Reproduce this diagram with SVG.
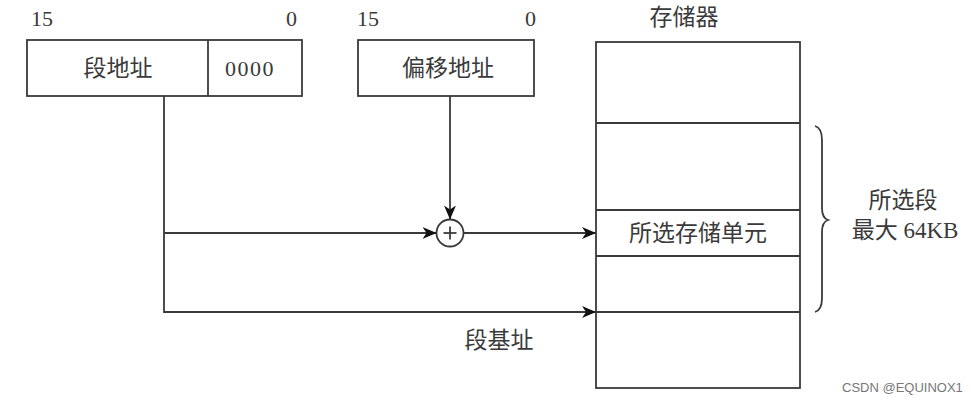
<svg xmlns="http://www.w3.org/2000/svg" width="971" height="403" viewBox="0 0 971 403">
<style>
.box{fill:#fff;stroke:#3a3a3a;stroke-width:1.8}
.ln{fill:none;stroke:#3a3a3a;stroke-width:1.8}
.cn{font-family:"Liberation Serif","Noto Sans CJK SC",serif;font-size:23px;fill:#3a3a3a;text-anchor:middle;dominant-baseline:central}
.num{font-family:"Liberation Serif",serif;font-size:22px;fill:#3a3a3a}
.wm{font-family:"Liberation Sans",sans-serif;font-size:13px;fill:#777}
</style>
<defs>
<marker id="ah" viewBox="0 0 14 12" refX="14" refY="6" markerWidth="14" markerHeight="12" markerUnits="userSpaceOnUse" orient="auto">
<path d="M0,0 L14,6 L0,12 L4,6 Z" fill="#111"/>
</marker>
</defs>
<g id="bits1">
<text class="num" x="31" y="26">15</text>
<text class="num" x="297" y="26" text-anchor="end">0</text>
</g>
<g id="seg-addr">
<rect class="box" x="27" y="40" width="275" height="56"/>
<line class="ln" x1="208" y1="40" x2="208" y2="96"/>
<text class="cn" x="118" y="68">段地址</text>
<text class="num" x="250" y="68" text-anchor="middle" dominant-baseline="central" letter-spacing="1.5">0000</text>
</g>
<g id="bits2">
<text class="num" x="357" y="26">15</text>
<text class="num" x="536" y="26" text-anchor="end">0</text>
</g>
<g id="offset-addr">
<rect class="box" x="358" y="40" width="176" height="56"/>
<text class="cn" x="448" y="68">偏移地址</text>
</g>
<g id="adder">
<circle class="ln" cx="450" cy="233" r="13.5" fill="#fff"/>
<line class="ln" x1="443.5" y1="233" x2="456.5" y2="233" stroke-width="1.2"/>
<line class="ln" x1="450" y1="226.5" x2="450" y2="239.5" stroke-width="1.2"/>
</g>
<g id="memory">
<text class="cn" x="684" y="17">存储器</text>
<rect class="box" x="596" y="42" width="204" height="346"/>
<line class="ln" x1="596" y1="123" x2="800" y2="123"/>
<line class="ln" x1="596" y1="210" x2="800" y2="210"/>
<line class="ln" x1="596" y1="256" x2="800" y2="256"/>
<line class="ln" x1="596" y1="312" x2="800" y2="312"/>
<text class="cn" x="698" y="233">所选存储单元</text>
</g>
<g id="segment-brace">
<path class="ln" d="M815,126 Q822,128 822,140 L822,208 Q822,218 828,220 Q822,222 822,232 L822,298 Q822,310 815,312"/>
<text class="cn" x="903" y="200">所选段</text>
<text class="cn" x="905" y="230">最大 64KB</text>
</g>
<g id="connectors">
<polyline class="ln" points="164,96 164,312 596,312" marker-end="url(#ah)"/>
<line class="ln" x1="164" y1="233" x2="436.5" y2="233" marker-end="url(#ah)"/>
<line class="ln" x1="450" y1="96" x2="450" y2="219.5" marker-end="url(#ah)"/>
<line class="ln" x1="463.5" y1="233" x2="596" y2="233" marker-end="url(#ah)"/>
<text class="cn" x="499" y="340">段基址</text>
</g>
<text class="wm" x="842" y="392">CSDN @EQUINOX1</text>
</svg>
